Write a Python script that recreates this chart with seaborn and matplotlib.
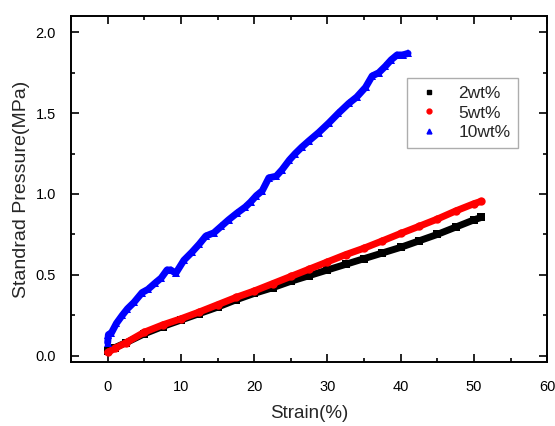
import numpy as np
import pandas as pd
import seaborn as sns
import matplotlib.pyplot as plt
from matplotlib.lines import Line2D
from matplotlib.ticker import MultipleLocator

sns.set_theme(style="ticks")
plt.rcParams['font.family'] = ['Liberation Sans', 'DejaVu Sans']

# values
strain_2 = [0, 1, 2.5, 5, 7.5, 10, 12.5, 15, 17.5, 20, 22.5, 25, 27.5, 30,
            32.5, 35, 37.5, 40, 42.5, 45, 47.5, 50, 51]
press_2 = [0.03, 0.05, 0.08, 0.135, 0.18, 0.22, 0.26, 0.30, 0.345, 0.385,
           0.42, 0.46, 0.495, 0.53, 0.565, 0.60, 0.635, 0.67, 0.71, 0.75,
           0.795, 0.84, 0.855]

strain_5 = [0, 1, 2.5, 5, 7.5, 10, 12.5, 15, 17.5, 20, 22.5, 25, 27.5, 30,
            32.5, 35, 37.5, 40, 42.5, 45, 47.5, 50, 51]
press_5 = [0.02, 0.045, 0.08, 0.145, 0.19, 0.228, 0.27, 0.315, 0.36, 0.40,
           0.445, 0.49, 0.535, 0.58, 0.625, 0.665, 0.71, 0.756, 0.80, 0.845,
           0.895, 0.94, 0.955]

strain_10 = [0, 0.1, 0.5, 1.2, 2.0, 2.7, 3.6, 4.7, 5.5, 6.5, 7.3, 8.1, 8.6,
             9.3, 10.4, 11.5, 12.5, 13.4, 14.5, 15.5, 16.5, 17.6, 18.8, 19.5,
             20.3, 21.1, 22.0, 23.0, 23.8, 24.8, 25.6, 26.5, 27.5, 28.8, 30.2,
             31.5, 32.9, 34.0, 35.2, 36.1, 37.0, 37.9, 38.7, 39.5, 40.3, 41.0]
press_10 = [0.08, 0.13, 0.14, 0.2, 0.25, 0.29, 0.33, 0.39, 0.41, 0.45, 0.48,
            0.53, 0.53, 0.51, 0.59, 0.64, 0.69, 0.74, 0.76, 0.80, 0.84, 0.88,
            0.92, 0.95, 0.99, 1.02, 1.10, 1.11, 1.15, 1.21, 1.25, 1.29, 1.33,
            1.38, 1.44, 1.50, 1.56, 1.60, 1.66, 1.73, 1.75, 1.79, 1.83, 1.86,
            1.86, 1.87]

series = [
    ("2wt%", strain_2, press_2, "black", "s"),
    ("5wt%", strain_5, press_5, "red", "o"),
    ("10wt%", strain_10, press_10, "blue", "^"),
]

fig, ax = plt.subplots(figsize=(5.55, 4.26), dpi=100)
fig.subplots_adjust(left=0.128, right=0.986, bottom=0.150, top=0.962)

for name, xs, ys, col, mk in series:
    df = pd.DataFrame({'strain': xs, 'pressure': ys})
    sns.lineplot(data=df, x='strain', y='pressure', color=col, lw=5,
                 marker=mk, markersize=6, markeredgewidth=0, ax=ax,
                 sort=False)

ax.set_xlim(-5, 60)
ax.set_ylim(-0.04, 2.1)
ax.xaxis.set_major_locator(MultipleLocator(10))
ax.xaxis.set_minor_locator(MultipleLocator(5))
ax.yaxis.set_major_locator(MultipleLocator(0.5))
ax.yaxis.set_minor_locator(MultipleLocator(0.25))
ax.tick_params(which='both', direction='in', top=True, right=True,
               width=1.2, colors='black', labelsize=10.5)
ax.tick_params(axis='x', which='major', pad=13)
ax.tick_params(axis='y', which='major', pad=11)
ax.tick_params(which='major', length=6)
ax.tick_params(which='minor', length=3)
for s in ax.spines.values():
    s.set_linewidth(1.4)
    s.set_color('black')

ax.set_xlabel('Strain(%)', fontsize=13.5, labelpad=8)
ax.set_ylabel('Standrad Pressure(MPa)', fontsize=14, labelpad=4)

# legend shows markers only
handles = [Line2D([], [], color=col, marker=mk, ls='none', markersize=3.5)
           for name, xs, ys, col, mk in series]
labels = [name for name, xs, ys, col, mk in series]
leg = ax.legend(handles, labels, loc='upper left',
                bbox_to_anchor=(0.706, 0.821), borderaxespad=0,
                fontsize=12.5, frameon=True, fancybox=False,
                edgecolor='#999999', handlelength=1.6, handletextpad=0.9,
                borderpad=0.45, labelspacing=0.25)
leg.get_frame().set_linewidth(1.0)

fig.savefig('out.png', dpi=100)
